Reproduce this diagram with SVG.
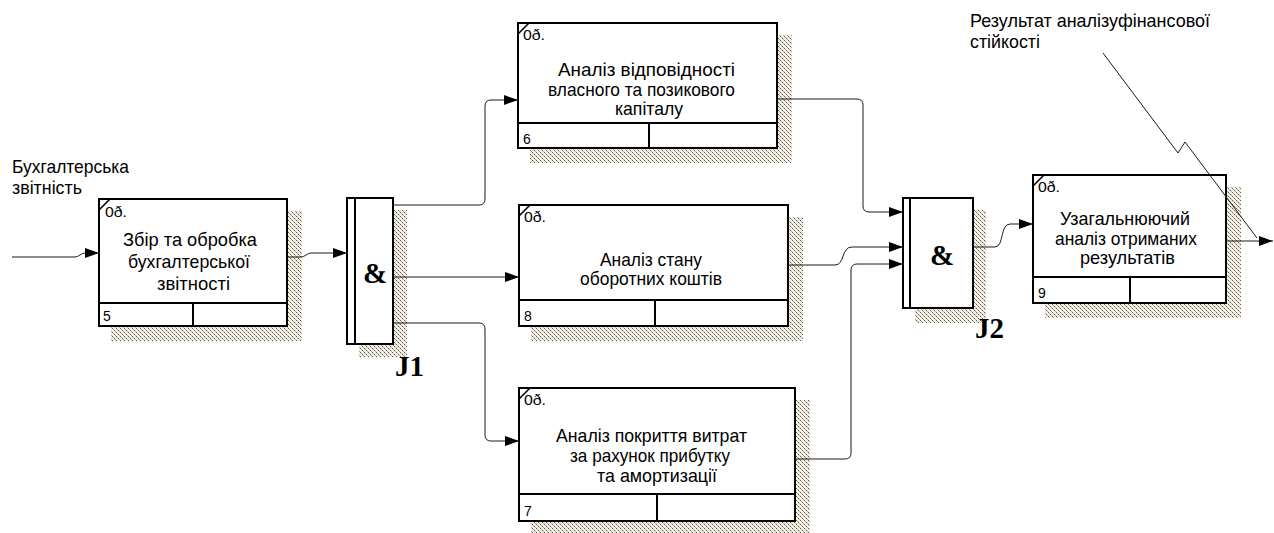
<svg xmlns="http://www.w3.org/2000/svg" width="1274" height="533" viewBox="0 0 1274 533">
  <style>
    .bx { fill: #fff; stroke: #000; stroke-width: 2; }
    .sh { fill: url(#hatch); }
    .ln { stroke: #000; stroke-width: 2; fill: none; }
    .tk { stroke: #000; stroke-width: 1.6; }
    .t { font-family: "Liberation Sans", Arial, sans-serif; font-size: 19px; fill: #000; }
    .s { font-family: "Liberation Sans", Arial, sans-serif; font-size: 14px; fill: #000; }
    .j { font-family: "Liberation Serif", "Times New Roman", serif; font-weight: bold; font-size: 29px; fill: #000; }
    .c { fill: none; stroke: #1a1a1a; stroke-width: 1; }
    .ar { marker-end: url(#ah); }
  </style>
  <defs>
    <pattern id="hatch" width="4" height="4" patternUnits="userSpaceOnUse">
      <rect width="4" height="4" fill="#f2eee2"/>
      <rect x="0" y="0" width="1" height="1" fill="#5a5a5a"/>
      <rect x="2" y="2" width="1" height="1" fill="#5a5a5a"/>
      <rect x="1" y="1" width="1" height="1" fill="#b0aca0"/>
      <rect x="3" y="3" width="1" height="1" fill="#b0aca0"/>
    </pattern>
    <marker id="ah" markerWidth="14" markerHeight="10" refX="14" refY="5" orient="auto" markerUnits="userSpaceOnUse">
      <path d="M0,0 L14,5 L0,10 z" fill="#000"/>
    </marker>
  </defs>

  <rect width="1274" height="533" fill="#fff"/>

  <!-- free labels -->
  <g id="label-input">
    <text class="t" x="12" y="173" textLength="117" lengthAdjust="spacingAndGlyphs">Бухгалтерська</text>
    <text class="t" x="12" y="194" textLength="70" lengthAdjust="spacingAndGlyphs">звітність</text>
  </g>
  <g id="label-output">
    <text class="t" x="970" y="27" textLength="240" lengthAdjust="spacingAndGlyphs">Результат аналізуфінансової</text>
    <text class="t" x="970" y="48" textLength="70" lengthAdjust="spacingAndGlyphs">стійкості</text>
  </g>

  <!-- activity 5 -->
  <g id="box5">
    <rect class="sh" x="111" y="211" width="191" height="130"/>
    <rect class="bx" x="99" y="199" width="188" height="127"/>
    <line class="tk" x1="99" y1="210" x2="110" y2="199"/>
    <line class="ln" x1="99" y1="303" x2="287" y2="303"/>
    <line class="ln" x1="193" y1="303" x2="193" y2="326"/>
    <text class="s" x="105" y="217" textLength="22" lengthAdjust="spacingAndGlyphs">0ð.</text>
    <text class="s" x="103" y="321">5</text>
    <text class="t" x="123" y="246" textLength="134" lengthAdjust="spacingAndGlyphs">Збір та обробка</text>
    <text class="t" x="128" y="268" textLength="122" lengthAdjust="spacingAndGlyphs">бухгалтерської</text>
    <text class="t" x="157" y="290" textLength="73" lengthAdjust="spacingAndGlyphs">звітності</text>
  </g>

  <!-- activity 6 -->
  <g id="box6">
    <rect class="sh" x="530" y="35" width="262" height="128"/>
    <rect class="bx" x="518" y="23" width="259" height="125"/>
    <line class="tk" x1="518" y1="34" x2="529" y2="23"/>
    <line class="ln" x1="518" y1="123" x2="777" y2="123"/>
    <line class="ln" x1="649" y1="123" x2="649" y2="148"/>
    <text class="s" x="523" y="40" textLength="22" lengthAdjust="spacingAndGlyphs">0ð.</text>
    <text class="s" x="523" y="144">6</text>
    <text class="t" x="558" y="76" textLength="177" lengthAdjust="spacingAndGlyphs">Аналіз відповідності</text>
    <text class="t" x="548" y="95.5" textLength="187" lengthAdjust="spacingAndGlyphs">власного та позикового</text>
    <text class="t" x="615" y="115" textLength="68" lengthAdjust="spacingAndGlyphs">капіталу</text>
  </g>

  <!-- activity 8 -->
  <g id="box8">
    <rect class="sh" x="531" y="217" width="272" height="124"/>
    <rect class="bx" x="519" y="205" width="269" height="121"/>
    <line class="tk" x1="519" y1="216" x2="530" y2="205"/>
    <line class="ln" x1="519" y1="300" x2="788" y2="300"/>
    <line class="ln" x1="655" y1="300" x2="655" y2="326"/>
    <text class="s" x="524" y="222" textLength="22" lengthAdjust="spacingAndGlyphs">0ð.</text>
    <text class="s" x="524" y="321">8</text>
    <text class="t" x="600" y="266" textLength="102" lengthAdjust="spacingAndGlyphs">Аналіз стану</text>
    <text class="t" x="580" y="285" textLength="142" lengthAdjust="spacingAndGlyphs">оборотних коштів</text>
  </g>

  <!-- activity 7 -->
  <g id="box7">
    <rect class="sh" x="531" y="400" width="279" height="136"/>
    <rect class="bx" x="519" y="388" width="276" height="133"/>
    <line class="tk" x1="519" y1="399" x2="530" y2="388"/>
    <line class="ln" x1="519" y1="494" x2="795" y2="494"/>
    <line class="ln" x1="657" y1="494" x2="657" y2="521"/>
    <text class="s" x="524" y="405" textLength="22" lengthAdjust="spacingAndGlyphs">0ð.</text>
    <text class="s" x="524" y="516">7</text>
    <text class="t" x="556" y="441.5" textLength="191" lengthAdjust="spacingAndGlyphs">Аналіз покриття витрат</text>
    <text class="t" x="570" y="461.5" textLength="160" lengthAdjust="spacingAndGlyphs">за рахунок прибутку</text>
    <text class="t" x="597" y="481.5" textLength="120" lengthAdjust="spacingAndGlyphs">та амортизації</text>
  </g>

  <!-- activity 9 -->
  <g id="box9">
    <rect class="sh" x="1045" y="187" width="196" height="131"/>
    <rect class="bx" x="1033" y="175" width="193" height="128"/>
    <line class="tk" x1="1033" y1="186" x2="1044" y2="175"/>
    <line class="ln" x1="1033" y1="277" x2="1226" y2="277"/>
    <line class="ln" x1="1130" y1="277" x2="1130" y2="303"/>
    <text class="s" x="1038" y="192" textLength="22" lengthAdjust="spacingAndGlyphs">0ð.</text>
    <text class="s" x="1038" y="298">9</text>
    <text class="t" x="1060" y="225" textLength="130" lengthAdjust="spacingAndGlyphs">Узагальнюючий</text>
    <text class="t" x="1055" y="245" textLength="142" lengthAdjust="spacingAndGlyphs">аналіз отриманих</text>
    <text class="t" x="1080" y="264" textLength="95" lengthAdjust="spacingAndGlyphs">результатів</text>
  </g>

  <!-- junction J1 -->
  <g id="J1">
    <rect class="sh" x="359" y="210" width="48" height="147"/>
    <rect class="bx" x="347" y="198" width="46" height="146"/>
    <line class="ln" x1="355" y1="198" x2="355" y2="344"/>
    <text class="j" x="375" y="283" text-anchor="middle">&amp;</text>
    <text class="j" x="395" y="376">J1</text>
  </g>

  <!-- junction J2 -->
  <g id="J2">
    <rect class="sh" x="915" y="210" width="71" height="113"/>
    <rect class="bx" x="903" y="198" width="70" height="110"/>
    <line class="ln" x1="910" y1="198" x2="910" y2="308"/>
    <text class="j" x="942" y="265" text-anchor="middle">&amp;</text>
    <text class="j" x="975" y="338">J2</text>
  </g>

  <!-- arrows -->
  <g id="connectors">
    <path class="c ar" d="M12,257 H74 C80,257 80,253 86,253 H99"/>
    <path class="c ar" d="M287,257 H300 C306,257 306,253 312,253 H347"/>
    <path class="c ar" d="M393,205 H479 Q485,205 485,199 V106 Q485,100 491,100 H518"/>
    <path class="c ar" d="M393,277 H519"/>
    <path class="c ar" d="M393,323 H479 Q485,323 485,329 V435 Q485,441 491,441 H519"/>
    <path class="c ar" d="M777,99 H857 Q863,99 863,105 V206 Q863,212 869,212 H903"/>
    <path class="c ar" d="M788,265 H835 C845,265 841,247 852,247 H903"/>
    <path class="c ar" d="M795,459 H845 Q851,459 851,453 V270 Q851,264 857,264 H903"/>
    <path class="c ar" d="M973,247 H995 C1004,247 1000,224 1010,224 H1033"/>
    <path class="c ar" d="M1226,241 H1273"/>
    <path class="c" d="M1103,53 L1178,153 L1185,142 L1257,238"/>
  </g>
</svg>
